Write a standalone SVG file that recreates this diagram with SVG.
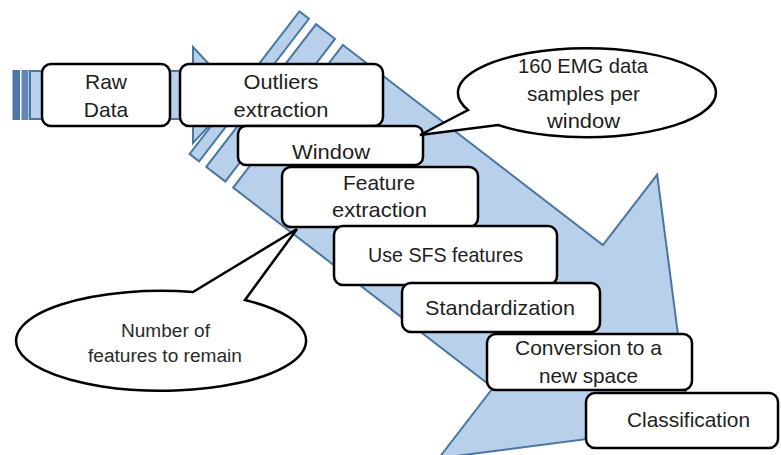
<svg xmlns="http://www.w3.org/2000/svg" width="781" height="455" viewBox="0 0 781 455">
<style>
.arr{fill:#b9d0ea;stroke:#4a76a3;stroke-width:2;stroke-linejoin:miter}
.box{fill:#fff;stroke:#000;stroke-width:2.5}
.call{fill:#fff;stroke:#000;stroke-width:2.5;stroke-linejoin:miter}
text{font-family:"Liberation Sans",Arial,sans-serif;font-size:21px;fill:#1e1e1e;text-anchor:middle}
.small{font-size:18px;fill:#2a2a2a}
</style>
<rect width="781" height="455" fill="#fff"/>
<g id="connectors">
  <g id="arrow-horizontal">
    <rect x="12.5" y="70" width="7.5" height="50" fill="#4b77a6"/>
    <rect x="21.5" y="70" width="7" height="50" fill="#5f88b5"/>
    <path class="arr" d="M30,71 L193,71 L193,47 L238,95 L193,143 L193,119 L30,119 Z"/>
  </g>
  <g id="arrow-diagonal" transform="translate(343,45) rotate(37.6)">
    <rect class="arr" x="-55" y="0" width="12" height="180"/>
    <rect class="arr" x="-34" y="0" width="24" height="180"/>
    <path class="arr" d="M0,0 L328,0 L328,-89 L507,90 L328,269 L328,180 L0,180 Z"/>
  </g>
</g>
<g id="raw-data">
  <rect class="box" x="42" y="64" width="128" height="62" rx="9"/>
  <text x="106" y="89">Raw</text>
  <text x="106" y="117">Data</text>
</g>
<g id="outliers">
  <rect class="box" x="180" y="64" width="203" height="62" rx="9"/>
  <text x="281" y="89" textLength="75" lengthAdjust="spacingAndGlyphs">Outliers</text>
  <text x="281" y="117" textLength="95" lengthAdjust="spacingAndGlyphs">extraction</text>
</g>
<g id="window">
  <rect class="box" x="238" y="126" width="185" height="39" rx="8"/>
  <text x="331" y="159" textLength="78" lengthAdjust="spacingAndGlyphs">Window</text>
</g>
<g id="feature-extraction">
  <rect class="box" x="282" y="167" width="196" height="60" rx="9"/>
  <text x="379" y="190" textLength="72" lengthAdjust="spacingAndGlyphs">Feature</text>
  <text x="379.5" y="217" textLength="95" lengthAdjust="spacingAndGlyphs">extraction</text>
</g>
<g id="use-sfs">
  <rect class="box" x="334" y="226" width="223" height="59" rx="9"/>
  <text x="445.5" y="262" textLength="155" lengthAdjust="spacingAndGlyphs">Use SFS features</text>
</g>
<g id="standardization">
  <rect class="box" x="402" y="283" width="198" height="49" rx="9"/>
  <text x="500" y="315" textLength="150" lengthAdjust="spacingAndGlyphs">Standardization</text>
</g>
<g id="conversion">
  <rect class="box" x="487" y="334" width="205" height="56" rx="9"/>
  <text x="588.5" y="355" textLength="147" lengthAdjust="spacingAndGlyphs">Conversion to a</text>
  <text x="588.5" y="383" textLength="99" lengthAdjust="spacingAndGlyphs">new space</text>
</g>
<g id="classification">
  <rect class="box" x="586" y="393" width="192" height="55" rx="9"/>
  <text x="688.5" y="427" textLength="123" lengthAdjust="spacingAndGlyphs">Classification</text>
</g>
<g id="callout-window">
  <path class="call" d="M498,125 A129,44.5 0 1 0 468,110 L420,135 Z"/>
  <text x="583" y="73" textLength="130" lengthAdjust="spacingAndGlyphs">160 EMG data</text>
  <text x="583.5" y="101" textLength="113" lengthAdjust="spacingAndGlyphs">samples per</text>
  <text x="583.5" y="128" textLength="73" lengthAdjust="spacingAndGlyphs">window</text>
</g>
<g id="callout-features">
  <path class="call" d="M193,292 A145,50 0 1 0 245,300 L297,229 Z"/>
  <text class="small" x="165.5" y="337" textLength="89" lengthAdjust="spacingAndGlyphs">Number of</text>
  <text class="small" x="165" y="362" textLength="154" lengthAdjust="spacingAndGlyphs">features to remain</text>
</g>
</svg>
